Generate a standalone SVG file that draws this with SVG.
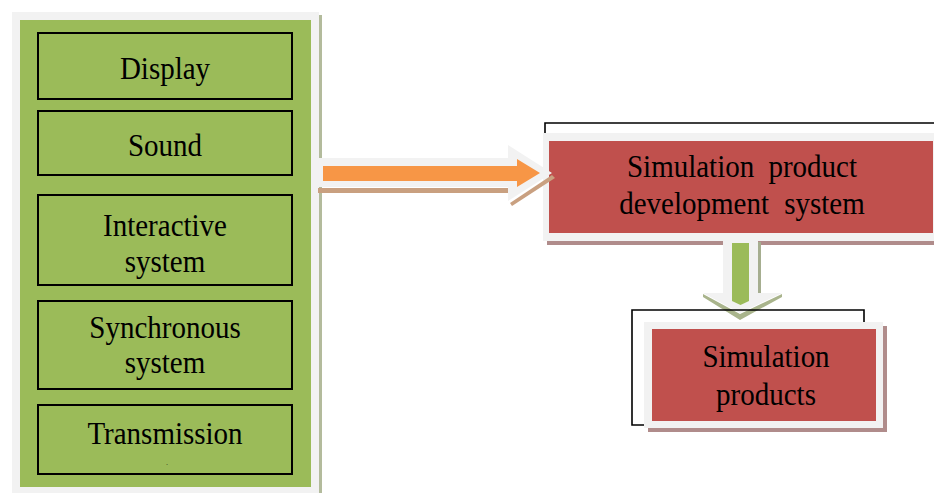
<svg xmlns="http://www.w3.org/2000/svg" width="934" height="493" viewBox="0 0 934 493">
  <defs>
    <style>
      .lbl { font-family: "Liberation Serif", "Times New Roman", serif; font-size: 29px; fill: #000; text-anchor: middle; }
      .item { fill: #9bbb59; stroke: #000; stroke-width: 2; }
      .frame { fill: #f2f2f2; }
      .red { fill: #c0504d; }
      .bracket { fill: none; stroke: #000; stroke-width: 1.6; }
    </style>
  </defs>
  <rect width="934" height="493" fill="#ffffff"/>

  <!-- Left panel: subsystems -->
  <g id="panel">
    <rect x="318" y="15" width="4" height="478" fill="#b3bb9c"/>
    <rect x="12" y="12" width="307" height="481" class="frame"/>
    <rect x="20" y="20" width="291" height="467" fill="#9bbb59"/>
  </g>
  <g id="display">
    <rect x="38" y="33" width="254" height="66" class="item"/>
    <text class="lbl" transform="translate(165 79) scale(1 1.08)">Display</text>
  </g>
  <g id="sound">
    <rect x="38" y="111" width="254" height="64" class="item"/>
    <text class="lbl" transform="translate(165 156) scale(1 1.08)">Sound</text>
  </g>
  <g id="interactive">
    <rect x="38" y="195" width="254" height="90" class="item"/>
    <text class="lbl" transform="translate(165 236) scale(1 1.08)">Interactive</text>
    <text class="lbl" transform="translate(165 272) scale(1 1.08)">system</text>
  </g>
  <g id="synchronous">
    <rect x="38" y="301" width="254" height="88" class="item"/>
    <text class="lbl" transform="translate(165 338) scale(1 1.08)">Synchronous</text>
    <text class="lbl" transform="translate(165 373) scale(1 1.08)">system</text>
  </g>
  <g id="transmission">
    <rect x="38" y="405" width="254" height="69" class="item"/>
    <text class="lbl" transform="translate(165 444) scale(1 1.08)">Transmission</text>
    <text x="167" y="465" style="font-family:'Liberation Serif',serif;font-size:6px;text-anchor:middle">.</text>
  </g>

  <!-- Development system -->
  <g id="dev-system">
    <path d="M545 134 V123 H934" class="bracket"/>
    <rect x="547" y="241" width="387" height="4" fill="#b08c8b"/>
    <rect x="543" y="133" width="391" height="108" class="frame"/>
    <rect x="549" y="141" width="384" height="92" class="red"/>
    <text class="lbl" style="word-spacing:7px" transform="translate(742 177) scale(1 1.08)">Simulation product</text>
    <text class="lbl" style="word-spacing:8px" transform="translate(742 214) scale(1 1.08)">development system</text>
  </g>

  <!-- Products -->
  <g id="products">
    <rect x="648" y="428" width="239" height="4" fill="#b08c8b"/>
    <rect x="883" y="326" width="4" height="106" fill="#b08c8b"/>
    <rect x="644" y="322" width="239" height="106" class="frame"/>
    <rect x="652" y="329" width="224" height="92" class="red"/>
    <text class="lbl" transform="translate(766 367) scale(1 1.08)">Simulation</text>
    <text class="lbl" transform="translate(766 405) scale(1 1.08)">products</text>
  </g>

  <!-- Connectors -->
  <g id="connectors">
    <!-- block arrow: subsystems to development system -->
    <rect x="318" y="188" width="192" height="5" fill="#c9a080"/>
    <polygon points="510,203 552,175 555,178 512,206" fill="#c9a080"/>
    <polygon points="318,158 508,158 508,145 552,173 508,201 508,187 318,187" class="frame"/>
    <polygon points="323,166 517,166 517,159 540,173 517,187 517,181 323,181" fill="#f79646"/>

    <!-- block arrow: development system to products -->
    <rect x="758" y="242" width="3" height="52" fill="#a6ae90"/>
    <polygon points="703,297 740,320 782,297 782,294 740,314 703,294" fill="#a9b48c"/>
    <polygon points="723,236 758,236 758,293 782,293 740,313 703,293 723,293" class="frame"/>
    <polygon points="732,243 749,243 749,301 740.5,305 732,301" fill="#9bbb59"/>
  </g>

  <!-- bracket behind products box, drawn after the arrow -->
  <g id="products-bracket">
    <path d="M644 425 H632 V310 H864 V322" class="bracket"/>
  </g>
</svg>
